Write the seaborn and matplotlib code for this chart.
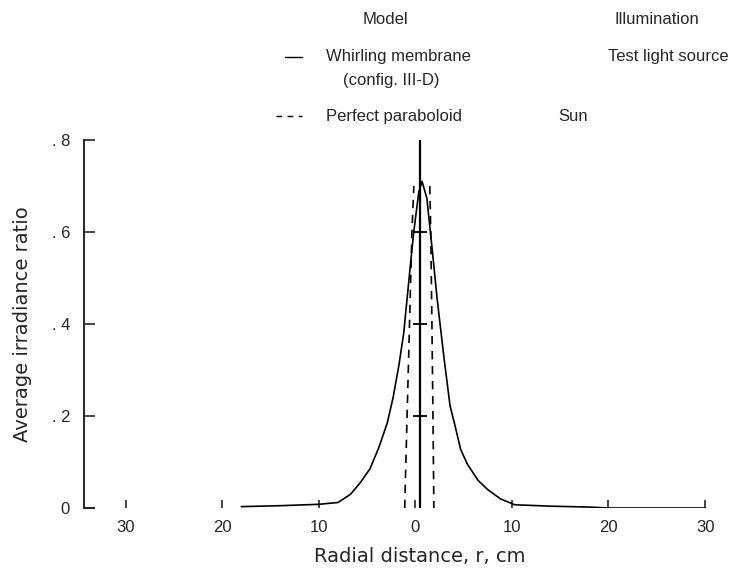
import numpy as np
import pandas as pd
import matplotlib
matplotlib.use("Agg")
import matplotlib.pyplot as plt
import seaborn as sns

# Whirling membrane (config. III-D), test light source
membrane_r = [-18, -14, -10, -8, -6.7, -5.7, -4.7, -3.8, -2.9, -2.3, -1.7, -1.2,
              -0.85, -0.5, -0.16, 0.36, 0.7, 1.2, 1.74, 2.26, 2.95, 3.6, 4.1,
              4.7, 5.4, 6.5, 7.5, 8.8, 10.3, 14, 18, 20, 25, 30]
membrane_e = [0.003, 0.005, 0.008, 0.012, 0.03, 0.055, 0.085, 0.13, 0.185, 0.24,
              0.31, 0.38, 0.455, 0.53, 0.6, 0.687, 0.71, 0.673, 0.564, 0.455,
              0.33, 0.222, 0.18, 0.127, 0.095, 0.06, 0.04, 0.02, 0.007, 0.004,
              0.002, 0.0, 0.0, 0.0]

# Perfect paraboloid, sun illumination (two flanks of the narrow spot)
parab_left_r = [-1.1, -0.85, -0.6, -0.35, -0.15]
parab_left_e = [0.0, 0.2, 0.4, 0.6, 0.7]
parab_right_r = [1.5, 1.6, 1.72, 1.83, 1.92]
parab_right_e = [0.7, 0.6, 0.4, 0.2, 0.0]

# Central reference line with its scale marks
center_r = 0.5
center_top = 0.8
center_marks = [0.2, 0.4, 0.6]

x_ticks = [-30, -20, -10, 0, 10, 20, 30]
x_ticklabels = ["30", "20", "10", "0", "10", "20", "30"]
y_ticks = [0, 0.2, 0.4, 0.6, 0.8]
y_ticklabels = ["0", ". 2", ". 4", ". 6", ". 8"]

sns.set_theme(style="ticks")
plt.rcParams["font.family"] = ["Liberation Sans Narrow", "Liberation Sans", "DejaVu Sans"]

W, H = 736, 573
fig = plt.figure(figsize=(W / 100, H / 100), dpi=100)
ax_left, ax_right, ax_top, ax_bot = 84, 707, 140, 508
ax = fig.add_axes([ax_left / W, 1 - ax_bot / H, (ax_right - ax_left) / W, (ax_bot - ax_top) / H])
ax.set_xlim(-34.3, 30.2)
ax.set_ylim(0, 0.8)

df_mem = pd.DataFrame({"r": membrane_r, "e": membrane_e})
sns.lineplot(data=df_mem, x="r", y="e", ax=ax, color="black", lw=1.2,
             sort=False, estimator=None)

df_pl = pd.DataFrame({"r": parab_left_r, "e": parab_left_e})
df_pr = pd.DataFrame({"r": parab_right_r, "e": parab_right_e})
for d in (df_pl, df_pr):
    sns.lineplot(data=d, x="r", y="e", ax=ax, color="black", lw=1.2,
                 sort=False, estimator=None, linestyle=(0, (5, 4)))

ax.plot([center_r, center_r], [0, center_top], color="black", lw=1.6)
ax.plot([center_r] * len(center_marks), center_marks, ls="none", marker="_",
        markersize=10, mew=1.3, color="black")

for s in ("top", "right"):
    ax.spines[s].set_visible(False)
ax.spines["left"].set_linewidth(1.4)
ax.spines["bottom"].set_bounds(-34.3, -33.3)
ax.spines["bottom"].set_linewidth(1.4)

ax.set_xticks(x_ticks)
ax.set_xticklabels(x_ticklabels)
ax.set_yticks(y_ticks)
ax.set_yticklabels(y_ticklabels)
ax.tick_params(axis="y", direction="in", length=8, width=1.2, labelsize=12, pad=10)
ax.tick_params(axis="x", direction="in", length=6, width=1.2, labelsize=12, pad=9)
ax.set_xlabel("Radial distance, r, cm", fontsize=14, family=["DejaVu Sans"])
ax.set_ylabel("Average irradiance ratio", fontsize=14, family=["DejaVu Sans"])
ax.xaxis.set_label_coords((420 - ax_left) / (ax_right - ax_left), -(556 - ax_bot) / (ax_bot - ax_top))
ax.yaxis.set_label_coords(-(84 - 22) / (ax_right - ax_left), 0.5)
ax.xaxis.label.set_va("center")
ax.yaxis.label.set_va("center")

# Key
def fx(px):
    return px / W

def fy(py):
    return 1 - py / H

fs = 12
fig.text(fx(385), fy(20), "Model", ha="center", va="center", fontsize=fs)
fig.text(fx(657), fy(20), "Illumination", ha="center", va="center", fontsize=fs)
fig.add_artist(plt.Line2D([fx(285), fx(302)], [fy(57), fy(57)], color="black", lw=1.0))
fig.text(fx(326), fy(57), "Whirling membrane", ha="left", va="center", fontsize=fs)
fig.text(fx(343), fy(80), "(config. III-D)", ha="left", va="center", fontsize=fs)
fig.text(fx(608), fy(57), "Test light source", ha="left", va="center", fontsize=fs)
fig.add_artist(plt.Line2D([fx(276), fx(302)], [fy(116), fy(116)], color="black", lw=1.0,
                          linestyle=(0, (4, 4))))
fig.text(fx(326), fy(116), "Perfect paraboloid", ha="left", va="center", fontsize=fs)
fig.text(fx(558), fy(116), "Sun", ha="left", va="center", fontsize=fs)

fig.savefig("out.png", dpi=100)
